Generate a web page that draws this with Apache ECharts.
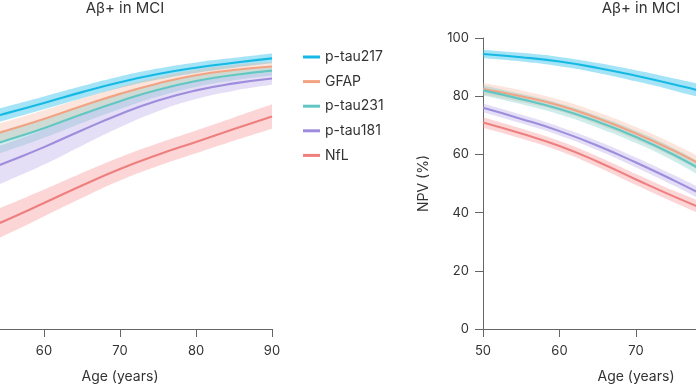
<!DOCTYPE html>
<html><head><meta charset="utf-8">
<script src="https://cdn.jsdelivr.net/npm/echarts@6/dist/echarts.min.js"></script>
<style>html,body{margin:0;padding:0;background:#fff}#c{width:696px;height:385px}</style>
</head><body><div id="c"></div>
<script>
const ages = [50, 55, 60, 65, 70, 75, 80, 85, 90];
const markers = ['p-tau217', 'GFAP', 'p-tau231', 'p-tau181', 'NfL'];
const yTicks = [0, 20, 40, 60, 80, 100];
const panelTitle = 'Aβ+ in MCI';
const xName = 'Age (years)';
const yNameRight = 'NPV (%)';

// Left panel (increasing curves) – central estimates
const left_ptau217 = [70.5, 74.1, 77.7, 81.4, 84.8, 87.6, 89.8, 91.5, 93.0];
const left_gfap    = [64.3, 68.1, 72.2, 76.6, 80.8, 84.4, 87.2, 89.0, 90.2];
const left_ptau231 = [60.8, 64.8, 69.0, 73.8, 78.3, 82.2, 85.2, 87.3, 88.8];
const left_ptau181 = [52.0, 57.2, 62.5, 68.3, 73.8, 78.5, 82.0, 84.4, 86.1];
const left_nfl     = [32.0, 37.4, 43.3, 49.3, 55.0, 59.9, 64.3, 68.7, 73.0];
// Left panel – half-widths of confidence bands
const left_ptau217_ci = [2.5, 2.3, 2.2, 2.1, 2.0, 1.9, 1.8, 1.7, 1.7];
const left_gfap_ci    = [3.5, 3.2, 3.0, 2.7, 2.4, 2.1, 1.9, 1.7, 1.6];
const left_ptau231_ci = [4.0, 3.7, 3.3, 3.0, 2.7, 2.3, 2.0, 1.8, 1.7];
const left_ptau181_ci = [7.0, 6.5, 6.0, 5.3, 4.5, 3.7, 3.0, 2.5, 2.2];
const left_nfl_ci     = [5.5, 5.0, 4.6, 4.3, 4.0, 3.9, 3.9, 4.0, 4.2];

// Right panel (NPV, decreasing)
const right_ptau217 = [94.5, 93.4, 91.9, 89.7, 87.0, 84.0, 80.7, 76.8, 72.0];
const right_gfap    = [82.5, 80.0, 76.8, 72.4, 67.2, 61.2, 54.5, 47.8, 41.0];
const right_ptau231 = [82.0, 79.0, 75.6, 71.2, 66.0, 59.8, 52.5, 45.2, 38.0];
const right_ptau181 = [76.0, 72.2, 68.0, 63.0, 57.2, 51.0, 44.5, 38.5, 32.8];
const right_nfl     = [71.0, 67.2, 62.9, 57.5, 51.4, 45.5, 40.0, 34.5, 29.0];
const right_ptau217_ci = [1.5, 1.5, 1.6, 1.7, 1.9, 2.1, 2.4, 2.8, 3.2];
const right_gfap_ci    = [2.0, 2.0, 2.0, 2.1, 2.2, 2.3, 2.4, 2.6, 2.8];
const right_ptau231_ci = [1.8, 1.8, 1.9, 2.0, 2.1, 2.2, 2.3, 2.5, 2.7];
const right_ptau181_ci = [1.5, 1.5, 1.5, 1.6, 1.7, 1.8, 2.0, 2.2, 2.4];
const right_nfl_ci     = [1.8, 1.7, 1.7, 1.8, 1.9, 2.0, 2.2, 2.4, 2.6];

const lineColors = ['#16b9e4', '#f2a384', '#62c6c2', '#9d8ddc', '#ef7f7f'];
const bandColors = ['rgba(40,190,235,0.42)', 'rgba(245,175,145,0.32)', 'rgba(110,200,195,0.32)', 'rgba(165,145,225,0.30)', 'rgba(245,130,130,0.33)'];

const leftMid = [left_ptau217, left_gfap, left_ptau231, left_ptau181, left_nfl];
const leftCi = [left_ptau217_ci, left_gfap_ci, left_ptau231_ci, left_ptau181_ci, left_nfl_ci];
const rightMid = [right_ptau217, right_gfap, right_ptau231, right_ptau181, right_nfl];
const rightCi = [right_ptau217_ci, right_gfap_ci, right_ptau231_ci, right_ptau181_ci, right_nfl_ci];

const FONT = 'Inter';
const TXT = '#333';
const AX = '#666';

function bandSeries(panel, mids, cis) {
  const out = [];
  mids.forEach((mid, k) => {
    const ci = cis[k];
    const stack = 'b' + panel + '_' + k;
    out.push({
      type: 'line', xAxisIndex: panel, yAxisIndex: panel, stack: stack,
      data: mid.map((v, i) => v - ci[i]), smooth: true, showSymbol: false, silent: true,
      lineStyle: { opacity: 0 }, z: 1
    });
    out.push({
      type: 'line', xAxisIndex: panel, yAxisIndex: panel, stack: stack,
      data: ci.map(c => 2 * c), smooth: true, showSymbol: false, silent: true,
      lineStyle: { opacity: 0 }, areaStyle: { color: bandColors[k], opacity: 1 }, z: 1
    });
  });
  mids.forEach((mid, k) => {
    out.push({
      name: markers[k], type: 'line', xAxisIndex: panel, yAxisIndex: panel,
      data: mid.slice(), smooth: true, showSymbol: false,
      lineStyle: { color: lineColors[k], width: 2.1 }, itemStyle: { color: lineColors[k] }, z: 3
    });
  });
  return out;
}

function xAxis(gi) {
  return {
    type: 'category', gridIndex: gi, data: ages.map(String), boundaryGap: false,
    name: xName, nameLocation: 'middle', nameGap: 41,
    nameTextStyle: { fontFamily: FONT, fontSize: 14, color: TXT },
    axisLine: { show: true, lineStyle: { color: AX, width: 1 } },
    axisTick: { show: true, length: 8, interval: 1, lineStyle: { color: AX } },
    axisLabel: { fontFamily: FONT, fontSize: 13, color: TXT, margin: 16, interval: 1 },
    splitLine: { show: false }
  };
}
function yAxis(gi, name) {
  return {
    type: 'value', gridIndex: gi, min: yTicks[0], max: yTicks[yTicks.length - 1], interval: 20,
    name: name, nameLocation: 'middle', nameGap: 52,
    nameTextStyle: { fontFamily: FONT, fontSize: 14, color: TXT },
    axisLine: { show: true, lineStyle: { color: AX, width: 1 } },
    axisTick: { show: true, length: 8, lineStyle: { color: AX } },
    axisLabel: { fontFamily: FONT, fontSize: 13, color: TXT, margin: 14 },
    splitLine: { show: false }
  };
}

const chart = echarts.init(document.getElementById('c'), null, { renderer: 'canvas' });
chart.setOption({
  animation: false,
  backgroundColor: '#fff',
  textStyle: { fontFamily: FONT },
  title: [
    { text: panelTitle, left: 120, top: -4, textAlign: 'center', textStyle: { fontFamily: FONT, fontSize: 15, fontWeight: 'normal', color: TXT } },
    { text: panelTitle, left: 636, top: -4, textAlign: 'center', textStyle: { fontFamily: FONT, fontSize: 15, fontWeight: 'normal', color: TXT } }
  ],
  legend: {
    data: markers, orient: 'vertical', left: 298, top: 44, itemGap: 8.6,
    itemWidth: 17, itemHeight: 3, icon: 'rect',
    textStyle: { fontFamily: FONT, fontSize: 14, color: TXT, lineHeight: 16 }
  },
  grid: [
    { left: -32, top: 38, width: 304, height: 291, containLabel: false, outerBoundsMode: 'none' },
    { left: 483, top: 38, width: 306, height: 291, containLabel: false, outerBoundsMode: 'none' }
  ],
  xAxis: [xAxis(0), xAxis(1)],
  yAxis: [yAxis(0, ''), yAxis(1, yNameRight)],
  series: bandSeries(0, leftMid, leftCi).concat(bandSeries(1, rightMid, rightCi))
});
</script></body></html>
